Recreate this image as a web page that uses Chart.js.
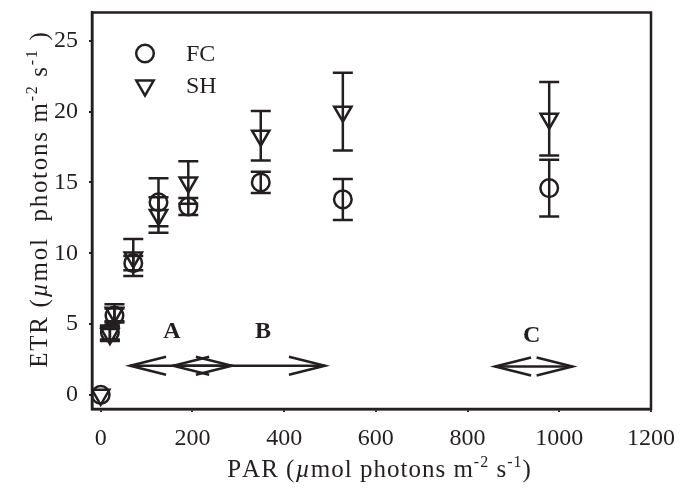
<!DOCTYPE html>
<html>
<head>
<meta charset="utf-8">
<script src="https://cdn.jsdelivr.net/npm/chart.js@4/dist/chart.umd.min.js"></script>
<style>
  body { margin: 0; background: #fff; }
  #wrap { width: 681px; height: 491px; }
</style>
</head>
<body>
<div id="wrap"><canvas id="etr" width="681" height="491"></canvas></div>
<script>
// PAR levels (x) and ETR means / error bars for each series
const PAR    = [0, 20, 30, 71, 126, 191, 349, 528, 978];
const FC     = [0, 4.4, 5.6, 9.3, 13.6, 13.3, 15.0, 13.8, 14.6];
const FC_ERR = [0, 0.5, 0.5, 0.5, 1.7, 0.6, 0.75, 1.45, 2.0];
const SH     = [0, 4.3, 5.8, 9.7, 12.7, 15.0, 18.3, 20.0, 19.5];
const SH_ERR = [0, 0.5, 0.6, 1.3, 1.25, 1.5, 1.75, 2.75, 2.6];

const X_TICKS = [0, 200, 400, 600, 800, 1000, 1200];
const Y_TICKS = [0, 5, 10, 15, 20, 25];

// phase ranges A, B, C drawn as double arrows
const PHASE_LABELS = ['A', 'B', 'C'];
const PHASE_FROM   = [64, 158, 860];
const PHASE_TO     = [286, 489, 1029];
const PHASE_ARROW_Y = [2.06, 2.06, 2.0];
const PHASE_LABEL_X = [155, 354, 940];
const PHASE_LABEL_Y = [4.46, 4.46, 4.17];

const INK = '#231f20';
const SERIF = "'Liberation Serif', 'Times New Roman', serif";

// draw text made of segments (italic mu, superscripts), centred on x,
// char by char so the loose spacing of the original can be matched
function richText(ctx, segs, x, y, sp) {
  const fontOf = s => (s.i ? 'italic ' : '') + (s.sup ? '16px ' : '25px ') + SERIF;
  let total = 0;
  segs.forEach(s => {
    ctx.font = fontOf(s);
    for (const ch of s.t) total += ctx.measureText(ch).width + sp;
  });
  total -= sp;
  let cx = x - total / 2;
  ctx.textAlign = 'left';
  ctx.textBaseline = 'alphabetic';
  segs.forEach(s => {
    ctx.font = fontOf(s);
    for (const ch of s.t) {
      ctx.fillText(ch, cx, s.sup ? y - 10 : y);
      cx += ctx.measureText(ch).width + sp;
    }
  });
}

function arrowHead(ctx, tipX, y, dir) {
  ctx.beginPath();
  ctx.moveTo(tipX + dir * 36, y - 9);
  ctx.lineTo(tipX, y);
  ctx.lineTo(tipX + dir * 36, y + 9);
  ctx.stroke();
}

const extras = {
  id: 'extras',
  afterDatasetsDraw(chart) {
    const ctx = chart.ctx;
    const xs = chart.scales.x, ys = chart.scales.y;
    const area = chart.chartArea;
    ctx.save();
    ctx.strokeStyle = INK;
    ctx.fillStyle = INK;

    // frame
    ctx.lineWidth = 2.5;
    ctx.strokeRect(area.left, area.top, area.right - area.left, area.bottom - area.top);

    // error bars
    [[FC, FC_ERR], [SH, SH_ERR]].forEach(([m, e]) => {
      PAR.forEach((p, i) => {
        if (!e[i]) return;
        const x = xs.getPixelForValue(p);
        const y1 = ys.getPixelForValue(m[i] + e[i]);
        const y2 = ys.getPixelForValue(m[i] - e[i]);
        ctx.beginPath();
        ctx.moveTo(x, y1); ctx.lineTo(x, y2);
        ctx.moveTo(x - 10, y1); ctx.lineTo(x + 10, y1);
        ctx.moveTo(x - 10, y2); ctx.lineTo(x + 10, y2);
        ctx.stroke();
      });
    });

    // phase arrows and letters
    PHASE_LABELS.forEach((lab, i) => {
      const x1 = xs.getPixelForValue(PHASE_FROM[i]);
      const x2 = xs.getPixelForValue(PHASE_TO[i]);
      const y = ys.getPixelForValue(PHASE_ARROW_Y[i]);
      ctx.beginPath();
      ctx.moveTo(x1, y); ctx.lineTo(x2, y);
      ctx.stroke();
      arrowHead(ctx, x1, y, 1);
      arrowHead(ctx, x2, y, -1);
      ctx.font = 'bold 24px ' + SERIF;
      ctx.textAlign = 'center';
      ctx.textBaseline = 'middle';
      ctx.fillText(lab, xs.getPixelForValue(PHASE_LABEL_X[i]), ys.getPixelForValue(PHASE_LABEL_Y[i]));
    });

    // legend (hollow symbols)
    const legY = [53.5, 85.5];
    chart.data.datasets.forEach((ds, i) => {
      ctx.fillStyle = 'rgba(0,0,0,0)';
      Chart.helpers.drawPoint(ctx, {
        pointStyle: ds.pointStyle, radius: ds.pointRadius,
        rotation: ds.rotation || 0, borderWidth: ds.borderWidth
      }, 145, legY[i]);
      ctx.fillStyle = INK;
      ctx.font = '24px ' + SERIF;
      ctx.textAlign = 'left';
      ctx.textBaseline = 'middle';
      ctx.fillText(ds.label, 186, legY[i] + 1);
    });

    // axis titles
    ctx.fillStyle = INK;
    richText(ctx, [
      { t: 'PAR (' }, { t: 'µ', i: true }, { t: 'mol photons m' },
      { t: '-2', sup: true }, { t: ' s' }, { t: '-1', sup: true }, { t: ')' }
    ], 379, 477, 1.0);
    ctx.save();
    ctx.translate(46.5, 200);
    ctx.rotate(-Math.PI / 2);
    richText(ctx, [
      { t: 'ETR (' }, { t: 'µ', i: true }, { t: 'mol  photons m' },
      { t: '-2', sup: true }, { t: ' s' }, { t: '-1', sup: true }, { t: ' )' }
    ], 0, 0, 1.7);
    ctx.restore();

    ctx.restore();
  }
};

const ctx = document.getElementById('etr').getContext('2d');
new Chart(ctx, {
  type: 'scatter',
  data: {
    datasets: [{
      label: 'FC',
      data: PAR.map((x, i) => ({ x: x, y: FC[i] })),
      pointStyle: 'circle',
      pointRadius: 8.8,
      borderWidth: 2.5,
      borderColor: INK,
      backgroundColor: 'rgba(0,0,0,0)'
    }, {
      label: 'SH',
      data: PAR.map((x, i) => ({ x: x, y: SH[i] })),
      pointStyle: 'triangle',
      rotation: 180,
      pointRadius: 10,
      borderWidth: 2.5,
      borderColor: INK,
      backgroundColor: 'rgba(0,0,0,0)'
    }]
  },
  options: {
    responsive: false,
    animation: false,
    layout: { padding: { top: 12, right: 30, left: 0, bottom: 0 } },
    plugins: { legend: { display: false }, tooltip: { enabled: false } },
    scales: {
      x: {
        type: 'linear', min: -19, max: 1200,
        afterBuildTicks: s => { s.ticks = X_TICKS.map(v => ({ value: v })); },
        afterFit: s => { s.height = 82; s.paddingLeft = 0; s.paddingRight = 0; },
        grid: { drawOnChartArea: false, tickLength: 3, color: INK, lineWidth: 2 },
        border: { color: INK, width: 2.5 },
        ticks: {
          color: INK, font: { family: SERIF, size: 24 }, padding: 12,
          maxRotation: 0, autoSkip: false, callback: v => String(v)
        }
      },
      y: {
        type: 'linear', min: -1, max: 27,
        afterBuildTicks: s => { s.ticks = Y_TICKS.map(v => ({ value: v })); },
        afterFit: s => { s.width = 92; s.paddingTop = 0; s.paddingBottom = 0; },
        grid: { drawOnChartArea: false, tickLength: 3, color: INK, lineWidth: 2 },
        border: { color: INK, width: 2.5 },
        ticks: {
          color: INK, font: { family: SERIF, size: 24 }, padding: 11,
          autoSkip: false, callback: v => String(v)
        }
      }
    }
  },
  plugins: [extras]
});
</script>
</body>
</html>
